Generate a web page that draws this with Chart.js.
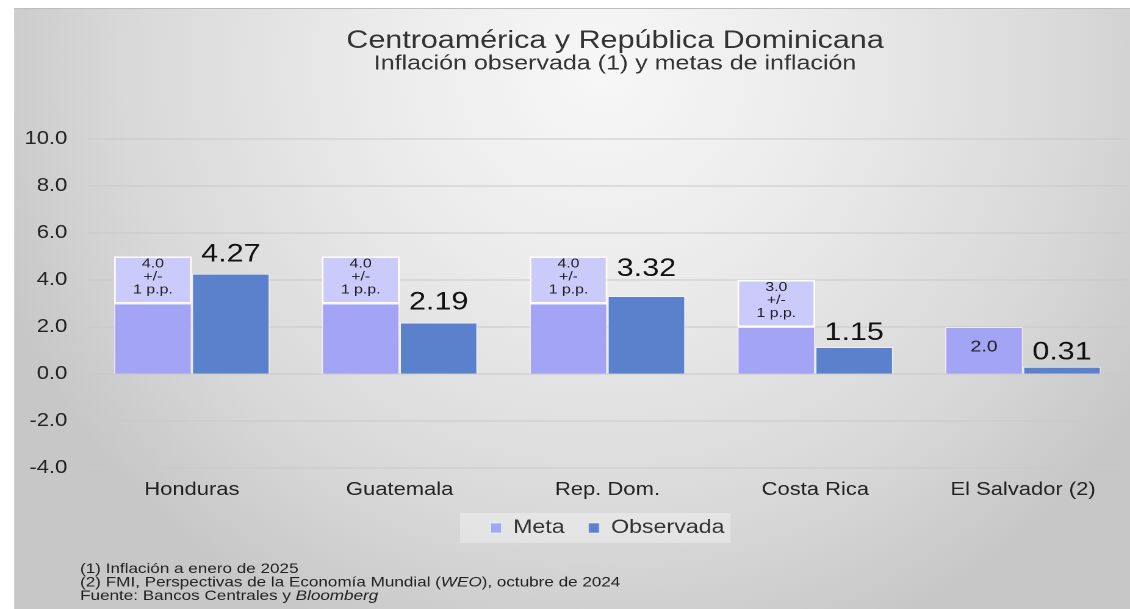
<!DOCTYPE html>
<html lang="es">
<head>
<meta charset="utf-8">
<title>Inflación observada y metas</title>
<script src="https://cdn.jsdelivr.net/npm/chart.js@4.4.1/dist/chart.umd.min.js"></script>
<style>
  html, body { margin: 0; padding: 0; background: #fff; }
  #frame { position: relative; width: 1130px; height: 609px; overflow: hidden; }
  #panel {
    position: absolute; left: 14px; top: 8px; right: 0; bottom: 0;
    border-top: 1px solid #bdbdbd; border-left: 1px solid #d2d2d2;
    background: radial-gradient(ellipse 640px 620px at 586px 60px,
      #f7f7f7 0%, #ebebeb 35%, #d8d8d8 75%, #c7c7c7 100%);
  }
  /* the chart is laid out narrow and stretched sideways, like the original slide */
  #inflChart { position: absolute; left: 0; top: 0; transform-origin: 0 0; transform: scaleX(1.2203); }
</style>
</head>
<body>
<div id="frame">
  <div id="panel"></div>
  <canvas id="inflChart" width="926" height="609"></canvas>
</div>
<script>
const categories = ['Honduras', 'Guatemala', 'Rep. Dom.', 'Costa Rica', 'El Salvador (2)'];
const metaTarget = [4.0, 4.0, 4.0, 3.0, 2.0];
const metaTolerance = [1, 1, 1, 1, 0];      // El Salvador has a point target
const observed = [4.27, 2.19, 3.32, 1.15, 0.31];
const yAxisTicks = [-4, -2, 0, 2, 4, 6, 8, 10];

const titleText = 'Centroamérica y República Dominicana';
const subtitleText = 'Inflación observada (1) y metas de inflación';
const footnotes = [
  [['(1) Inflación a enero de 2025', false]],
  [['(2) FMI, Perspectivas de la Economía Mundial (', false], ['WEO', true], ['), octubre de 2024', false]],
  [['Fuente: Bancos Centrales y ', false], ['Bloomberg', true]]
];

// lower part of the target bar and the +/- band on top of it
const metaLow = metaTarget.map((t, i) => t - metaTolerance[i]);
const metaBand = metaTolerance.map(t => 2 * t);

const FONT = '"Liberation Sans", Arial, sans-serif';
// gap (px) between the top of each observed bar and its value label
const valueLabelLift = [19, 20, 27, 14, 14];

// light box behind the legend
const legendBox = {
  id: 'legendBox',
  beforeDraw(chart) {
    const hb = chart.legend.legendHitBoxes;
    if (!hb || !hb.length) return;
    const last = hb[hb.length - 1];
    const cy = hb[0].top + hb[0].height / 2;
    const ctx = chart.ctx;
    ctx.save();
    ctx.fillStyle = 'rgba(255,255,255,0.32)';
    ctx.fillRect(hb[0].left - 25, cy - 15, last.left + last.width + 30 - hb[0].left, 30);
    ctx.restore();
  }
};

// value labels over the bars and inside the target bands
const barLabels = {
  id: 'barLabels',
  afterDatasetsDraw(chart) {
    const ctx = chart.ctx;
    ctx.save();
    ctx.textAlign = 'center';
    ctx.textBaseline = 'middle';
    const low = chart.getDatasetMeta(0).data;
    const band = chart.getDatasetMeta(1).data;
    const obs = chart.getDatasetMeta(2).data;
    categories.forEach((c, i) => {
      ctx.fillStyle = '#222';
      if (metaTolerance[i] > 0) {
        const el = band[i];
        const mid = (el.y + el.base) / 2 - 3;
        ctx.font = '13px ' + FONT;
        ctx.fillText(metaTarget[i].toFixed(1), el.x, mid - 13);
        ctx.fillText('+/-', el.x, mid);
        ctx.fillText(metaTolerance[i] + ' p.p.', el.x, mid + 13);
      } else {
        const el = low[i];
        ctx.font = '16px ' + FONT;
        ctx.fillText(metaTarget[i].toFixed(1), el.x, (el.y + el.base) / 2 - 3);
      }
      const o = obs[i];
      ctx.fillStyle = '#111';
      ctx.font = '25px ' + FONT;
      ctx.fillText(observed[i].toFixed(2), o.x, o.y - valueLabelLift[i]);
    });
    ctx.restore();
  }
};

// title block and notes at the foot of the panel
const panelText = {
  id: 'panelText',
  afterDraw(chart) {
    const ctx = chart.ctx;
    ctx.save();
    ctx.fillStyle = '#333';
    ctx.textAlign = 'center';
    ctx.textBaseline = 'middle';
    ctx.font = '25px ' + FONT;
    ctx.fillText(titleText, 504, 41);
    ctx.font = '20.5px ' + FONT;
    ctx.fillText(subtitleText, 504, 64);

    ctx.textAlign = 'left';
    ctx.fillStyle = '#222';
    footnotes.forEach((line, k) => {
      let x = 65.6;
      const y = 569 + k * 13.5;
      line.forEach(([txt, italic]) => {
        ctx.font = (italic ? 'italic ' : '') + '14px ' + FONT;
        ctx.fillText(txt, x, y);
        x += ctx.measureText(txt).width;
      });
    });
    ctx.restore();
  }
};

new Chart(document.getElementById('inflChart'), {
  type: 'bar',
  data: {
    labels: categories,
    datasets: [
      {
        label: 'Meta', data: metaLow, stack: 'meta',
        backgroundColor: '#a4a4f6', borderColor: 'rgba(255,255,255,0.55)', borderWidth: 1
      },
      {
        label: 'Rango', data: metaBand, stack: 'meta',
        backgroundColor: '#cbcbfb', borderColor: 'rgba(255,255,255,0.95)', borderWidth: 1.5,
        borderSkipped: false
      },
      {
        label: 'Observada', data: observed, stack: 'obs',
        backgroundColor: '#5b80cc', borderColor: 'rgba(255,255,255,0.5)', borderWidth: 1
      }
    ]
  },
  plugins: [legendBox, barLabels, panelText],
  options: {
    responsive: false,
    animation: false,
    devicePixelRatio: 2,
    categoryPercentage: 0.75,
    barPercentage: 1.0,
    layout: { padding: { top: 139, left: 0, right: 2.5, bottom: 61.5 } },
    scales: {
      x: {
        stacked: true,
        grid: { display: false },
        border: { display: false },
        ticks: { color: '#222', padding: 3, font: { family: FONT, size: 18 } },
        afterFit(s) { s.height = 31; }
      },
      y: {
        stacked: true,
        min: -4, max: 10,
        afterBuildTicks(s) { s.ticks = yAxisTicks.map(v => ({ value: v })); },
        grid: { color: '#c8c8c8', lineWidth: 1, drawTicks: false },
        border: { display: false },
        ticks: {
          color: '#222', padding: 17, font: { family: FONT, size: 18 },
          callback: v => Number(v).toFixed(1)
        },
        afterFit(s) { s.width = 72.1; }
      }
    },
    plugins: {
      legend: {
        position: 'bottom',
        fullSize: false,
        labels: {
          filter: item => item.datasetIndex !== 1,
          boxWidth: 9, boxHeight: 10, padding: 19.5,
          color: '#333', font: { family: FONT, size: 19 }
        }
      },
      tooltip: { enabled: false }
    }
  }
});
</script>
</body>
</html>
